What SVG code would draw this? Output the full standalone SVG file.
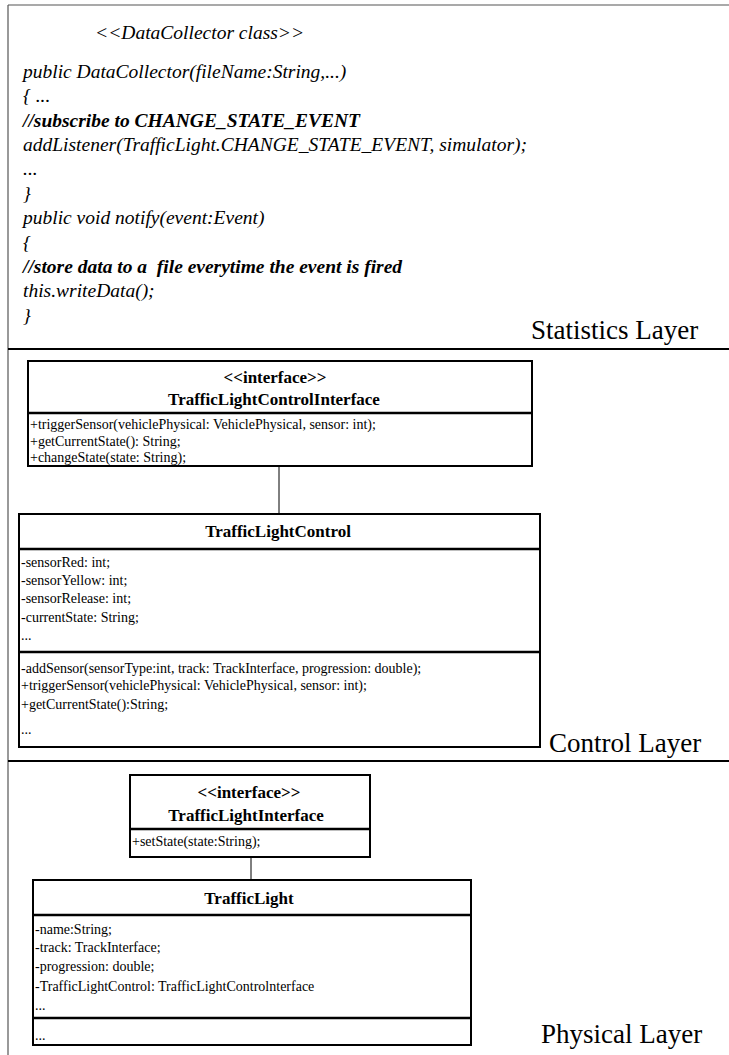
<svg xmlns="http://www.w3.org/2000/svg" width="729" height="1055" viewBox="0 0 729 1055">
<style>
.code{font-family:"Liberation Serif","Times New Roman",serif;font-style:italic;font-size:19.5px;fill:#000;white-space:pre}
.b{font-weight:bold}
.layer{font-family:"Liberation Serif","Times New Roman",serif;font-size:27px;fill:#000}
.title{font-family:"Liberation Serif","Times New Roman",serif;font-weight:bold;font-size:17px;text-anchor:middle;fill:#000}
.item{font-family:"Liberation Serif","Times New Roman",serif;font-size:14px;fill:#000}
.box{fill:#fff;stroke:#000;stroke-width:2}
.sep{stroke:#000;stroke-width:2.5}
.frame{stroke:#555;stroke-width:1.2;fill:none}
.div{stroke:#000;stroke-width:2}
.conn{stroke:#000;stroke-width:1;fill:none}
</style>
<rect x="0" y="0" width="729" height="1055" fill="#fff"/>
<g id="frame">
<line class="frame" x1="8" y1="5" x2="729" y2="5"/>
<line class="frame" x1="8" y1="5" x2="8" y2="1055"/>
<line class="div" x1="8" y1="349" x2="729" y2="349"/>
<line class="div" x1="8" y1="761" x2="729" y2="761"/>
</g>
<g id="statistics-layer">
<text class="code" x="95" y="39">&lt;&lt;DataCollector class&gt;&gt;</text>
<text class="code" x="23" y="78">public DataCollector(fileName:String,...)</text>
<text class="code" x="23" y="102">{ ...</text>
<text class="code b" x="23" y="127">//subscribe to CHANGE_STATE_EVENT</text>
<text class="code" x="23" y="151">addListener(TrafficLight.CHANGE_STATE_EVENT, simulator);</text>
<text class="code" x="23" y="175">...</text>
<text class="code" x="23" y="200">}</text>
<text class="code" x="23" y="224">public void notify(event:Event)</text>
<text class="code" x="23" y="249">{</text>
<text class="code b" x="23" y="273" xml:space="preserve">//store data to a  file everytime the event is fired</text>
<text class="code" x="23" y="297">this.writeData();</text>
<text class="code" x="23" y="322">}</text>
<text class="layer" x="531" y="339">Statistics Layer</text>
</g>
<g id="connectors">
<line class="conn" x1="279" y1="466" x2="279" y2="514"/>
<line class="conn" x1="251" y1="857" x2="251" y2="880"/>
</g>
<g id="TrafficLightControlInterface">
<rect class="box" x="28" y="361" width="504" height="105"/>
<text class="title" x="275" y="383">&lt;&lt;interface&gt;&gt;</text>
<text class="title" x="274" y="405">TrafficLightControlInterface</text>
<line class="sep" x1="28" y1="413" x2="532" y2="413"/>
<text class="item" x="30" y="429">+triggerSensor(vehiclePhysical: VehiclePhysical, sensor: int);</text>
<text class="item" x="30" y="446">+getCurrentState(): String;</text>
<text class="item" x="30" y="462">+changeState(state: String);</text>
</g>
<g id="TrafficLightControl">
<rect class="box" x="19" y="514" width="521" height="233"/>
<text class="title" x="278" y="537">TrafficLightControl</text>
<line class="sep" x1="19" y1="549" x2="540" y2="549"/>
<text class="item" x="21" y="567">-sensorRed: int;</text>
<text class="item" x="21" y="585">-sensorYellow: int;</text>
<text class="item" x="21" y="603">-sensorRelease: int;</text>
<text class="item" x="21" y="622">-currentState: String;</text>
<text class="item" x="21" y="640">...</text>
<line class="sep" x1="19" y1="652" x2="540" y2="652"/>
<text class="item" x="21" y="673">-addSensor(sensorType:int, track: TrackInterface, progression: double);</text>
<text class="item" x="21" y="690">+triggerSensor(vehiclePhysical: VehiclePhysical, sensor: int);</text>
<text class="item" x="21" y="709">+getCurrentState():String;</text>
<text class="item" x="21" y="734">...</text>
</g>
<text class="layer" x="549" y="752">Control Layer</text>
<g id="TrafficLightInterface">
<rect class="box" x="130" y="775" width="240" height="82"/>
<text class="title" x="249" y="798">&lt;&lt;interface&gt;&gt;</text>
<text class="title" x="246" y="821">TrafficLightInterface</text>
<line class="sep" x1="130" y1="829" x2="370" y2="829"/>
<text class="item" x="132" y="846">+setState(state:String);</text>
</g>
<g id="TrafficLight">
<rect class="box" x="33" y="880" width="438" height="165"/>
<text class="title" x="249" y="904">TrafficLight</text>
<line class="sep" x1="33" y1="915" x2="471" y2="915"/>
<text class="item" x="35" y="934">-name:String;</text>
<text class="item" x="35" y="952">-track: TrackInterface;</text>
<text class="item" x="35" y="971">-progression: double;</text>
<text class="item" x="35" y="991">-TrafficLightControl: TrafficLightControlnterface</text>
<text class="item" x="35" y="1010">...</text>
<line class="sep" x1="33" y1="1018" x2="471" y2="1018"/>
<text class="item" x="35" y="1040">...</text>
</g>
<text class="layer" x="541" y="1043">Physical Layer</text>
</svg>
